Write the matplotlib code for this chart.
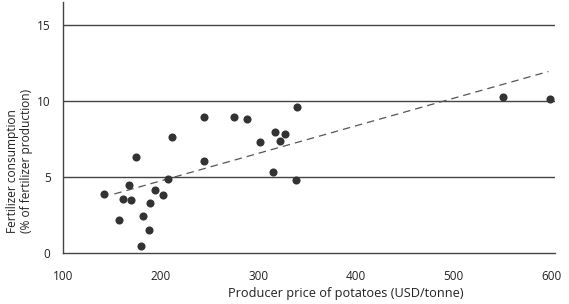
import matplotlib
matplotlib.use("Agg")
import matplotlib.pyplot as plt

price = [141.7, 161.2, 170.0, 167.3, 157.7, 174.8, 181.6, 179.9, 188.1, 189.5,
         194.0, 202.8, 207.2, 212.0, 244.8, 244.8, 275.5, 288.8, 301.5, 317.5,
         322.6, 327.1, 315.5, 339.8, 338.5, 550.5, 598.6]
fert = [3.86, 3.53, 3.51, 4.49, 2.19, 6.34, 2.43, 0.44, 1.51, 3.27,
        4.17, 3.82, 4.85, 7.61, 8.93, 6.03, 8.93, 8.82, 7.28, 7.96,
        7.39, 7.81, 5.35, 9.61, 4.78, 10.24, 10.15]
trend_x = [152.6, 597.2]
trend_y = [3.88, 11.93]
xticks = [100, 200, 300, 400, 500, 600]
yticks = [0, 5, 10, 15]

plt.rcParams['font.family'] = ['Open Sans', 'DejaVu Sans']
fig = plt.figure(figsize=(5.69, 3.04), dpi=100)
ax = fig.add_axes([0.1107, 0.1678, 0.8647, 0.8256])

for y in yticks[1:]:
    ax.axhline(y, color='#444444', lw=1.0, zorder=1)
ax.plot(trend_x, trend_y, color='#555555', lw=0.9, ls=(0, (6, 4)), zorder=2)
ax.scatter(price, fert, s=34, color='#333333', zorder=3, linewidths=0)

ax.set_xlim(100, 604)
ax.set_ylim(0, 16.5)
ax.set_xticks(xticks)
ax.set_yticks(yticks)
ax.tick_params(length=0, labelsize=8.5, colors='#222222')
ax.tick_params(axis='x', pad=12)
ax.tick_params(axis='y', pad=9)
for s in ['top', 'right']:
    ax.spines[s].set_visible(False)
for s in ['left', 'bottom']:
    ax.spines[s].set_color('#444444')
    ax.spines[s].set_linewidth(1.0)
ax.set_xlabel('Producer price of potatoes (USD/tonne)', fontsize=9.2, color='#222222',
              va='top', ha='center')
ax.xaxis.set_label_coords(0.575, -0.136)
ax.set_ylabel('Fertilizer consumption\n(% of fertilizer production)', fontsize=8.6, color='#222222',
              linespacing=1.1, rotation=90, rotation_mode='anchor',
              ha='left', va='center', multialignment='left')
ax.yaxis.set_label_coords(-0.0874, 0.08)

fig.savefig('out.png', dpi=100)
